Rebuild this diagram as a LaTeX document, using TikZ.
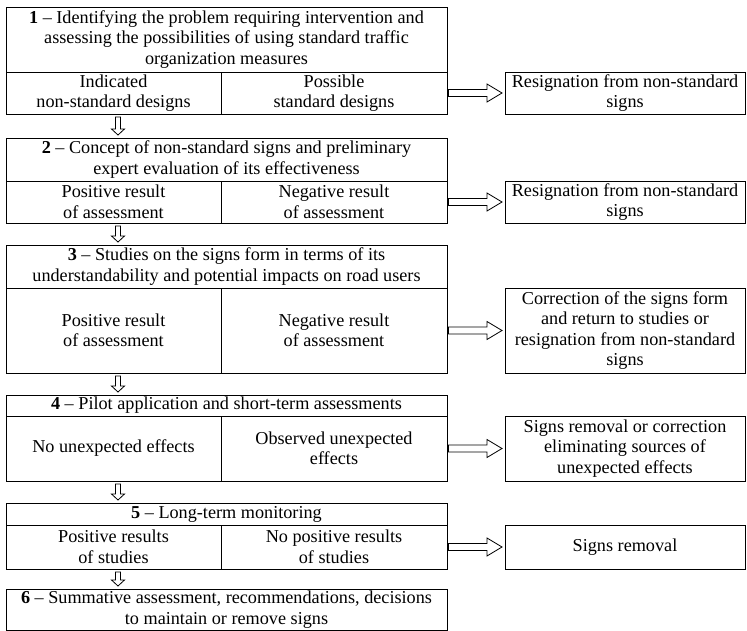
\documentclass[tikz,border=0pt]{standalone}
\usepackage{fontspec}
\setmainfont{Liberation Serif}
\usetikzlibrary{calc}
\newcommand{\cellfnt}{\fontsize{18.2pt}{20.5pt}\selectfont}
\tikzset{
  cell/.style={draw, line width=0.8pt, inner sep=0pt, outer sep=0pt, align=center,
    font=\cellfnt, anchor=north west},
  blockarrow/.style={draw, line width=0.8pt, fill=white, line join=miter},
}
\newcommand{\harrow}[2]{%
  \draw[blockarrow] let \p1=(#1), \p2=(#2) in
    (\x1,\y1+3.5pt) -- (\x2-15pt,\y1+3.5pt) -- (\x2-15pt,\y1+9pt) -- (\x2,\y1)
    -- (\x2-15pt,\y1-9pt) -- (\x2-15pt,\y1-3.5pt) -- (\x1,\y1-3.5pt) -- cycle;}
\newcommand{\varrow}[2]{%
  \draw[blockarrow] let \p1=(#1), \p2=(#2) in
    (\x1-2.5pt,\y1) -- (\x1-2.5pt,\y2+6pt) -- (\x1-6.5pt,\y2+6pt) -- (\x1,\y2)
    -- (\x1+6.5pt,\y2+6pt) -- (\x1+2.5pt,\y2+6pt) -- (\x1+2.5pt,\y1) -- cycle;}
\begin{document}
\begin{tikzpicture}[x=1pt,y=-1pt]
\useasboundingbox[fill=white] (0,0) rectangle (747,631);

% Box 1
\node[cell, minimum width=441pt, minimum height=65pt] (b1h) at (6,7)
  {\textbf{1} -- Identifying the problem requiring intervention and\\
   assessing the possibilities of using standard traffic\\ organization measures};
\node[cell, minimum width=215pt, minimum height=42pt] (b1l) at (6,72)
  {Indicated\\ non-standard designs};
\node[cell, minimum width=226pt, minimum height=42pt] (b1r) at (221,72)
  {Possible\\ standard designs};
\node[cell, minimum width=240pt, minimum height=42pt] (r1) at (505,72)
  {Resignation from non-standard\\ signs};

% Box 2
\node[cell, minimum width=441pt, minimum height=43pt] (b2h) at (6,138)
  {\textbf{2} -- Concept of non-standard signs and preliminary\\
   expert evaluation of its effectiveness};
\node[cell, minimum width=215pt, minimum height=42pt] (b2l) at (6,181)
  {Positive result\\ of assessment};
\node[cell, minimum width=226pt, minimum height=42pt] (b2r) at (221,181)
  {Negative result\\ of assessment};
\node[cell, minimum width=240pt, minimum height=42pt] (r2) at (505,181)
  {Resignation from non-standard\\ signs};

% Box 3
\node[cell, minimum width=441pt, minimum height=43pt] (b3h) at (6,245)
  {\textbf{3} -- Studies on the signs form in terms of its\\
   understandability and potential impacts on road users};
\node[cell, minimum width=215pt, minimum height=85pt] (b3l) at (6,288)
  {Positive result\\ of assessment};
\node[cell, minimum width=226pt, minimum height=85pt] (b3r) at (221,288)
  {Negative result\\ of assessment};
\node[cell, minimum width=240pt, minimum height=85pt] (r3) at (505,288)
  {Correction of the signs form\\ and return to studies or\\
   resignation from non-standard\\ signs};

% Box 4
\node[cell, minimum width=441pt, minimum height=21pt] (b4h) at (6,395)
  {\textbf{4} -- Pilot application and short-term assessments};
\node[cell, minimum width=215pt, minimum height=65pt] (b4l) at (6,416)
  {No unexpected effects};
\node[cell, minimum width=226pt, minimum height=65pt] (b4r) at (221,416)
  {Observed unexpected\\ effects};
\node[cell, minimum width=240pt, minimum height=65pt] (r4) at (505,416)
  {Signs removal or correction\\ eliminating sources of\\ unexpected effects};

% Box 5
\node[cell, minimum width=441pt, minimum height=22pt] (b5h) at (6,503)
  {\textbf{5} -- Long-term monitoring};
\node[cell, minimum width=215pt, minimum height=44pt] (b5l) at (6,525)
  {Positive results\\ of studies};
\node[cell, minimum width=226pt, minimum height=44pt] (b5r) at (221,525)
  {No positive results\\ of studies};
\node[cell, minimum width=240pt, minimum height=44pt] (r5) at (505,525)
  {Signs removal};

% Box 6
\node[cell, minimum width=441pt, minimum height=41pt] (b6) at (6,589)
  {\textbf{6} -- Summative assessment, recommendations, decisions\\
   to maintain or remove signs};

% horizontal arrows
\foreach \a/\b in {b1r/r1, b2r/r2, b3r/r3, b4r/r4, b5r/r5}{
  \coordinate (hs) at ([xshift=1.5pt]\a.east);
  \coordinate (he) at ([xshift=-3pt]\b.west);
  \harrow{hs}{he}
}
% vertical arrows
\foreach \a/\b in {b1l/b2h, b2l/b3h, b3l/b4h, b4l/b5h, b5l/b6}{
  \coordinate (vs) at ([xshift=4.5pt,yshift=-3pt]\a.south);
  \coordinate (ve) at ([yshift=3pt]vs |- \b.north);
  \varrow{vs}{ve}
}
\end{tikzpicture}
\end{document}
